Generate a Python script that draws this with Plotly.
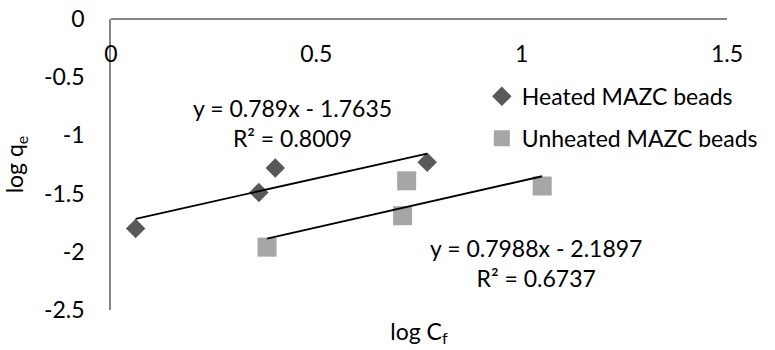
import plotly.graph_objects as go
import numpy as np

# ---- data ----
heated_x = [0.06, 0.36, 0.40, 0.77]
heated_y = [-1.80, -1.49, -1.28, -1.23]
unheated_x = [0.38, 0.71, 0.72, 1.05]
unheated_y = [-1.96, -1.69, -1.39, -1.435]

series_names = ["Heated MAZC beads", "Unheated MAZC beads"]
trend_slopes = [0.789, 0.7988]
trend_intercepts = [-1.7635, -2.1897]
trend_labels = ["y = 0.789x - 1.7635<br>R² = 0.8009",
                "y = 0.7988x - 2.1897<br>R² = 0.6737"]
x_ticks = [0, 0.5, 1, 1.5]
y_ticks = [0, -0.5, -1, -1.5, -2, -2.5]

FONT = "Lato, 'Open Sans', sans-serif"
FS = 23
DARK = "#595959"
LIGHT = "#A6A6A6"
AXIS = "#868686"

fig = go.Figure()

fig.add_trace(go.Scatter(
    x=heated_x, y=heated_y, mode="markers", name=series_names[0],
    legendgroup="a",
    marker=dict(symbol="diamond", size=15, color=DARK, line=dict(width=0)),
))
fig.add_trace(go.Scatter(
    x=unheated_x, y=unheated_y, mode="markers", name=series_names[1],
    legendgroup="b",
    marker=dict(symbol="square", size=19, color=LIGHT, line=dict(width=0)),
))

for xs, m, b in [(heated_x, trend_slopes[0], trend_intercepts[0]),
                 (unheated_x, trend_slopes[1], trend_intercepts[1])]:
    tx = np.array([min(xs), max(xs)])
    fig.add_trace(go.Scatter(
        x=tx, y=m * tx + b, mode="lines", showlegend=False,
        line=dict(color="black", width=1.8), hoverinfo="skip",
    ))

# x-title carrier axis at bottom
fig.add_trace(go.Scatter(x=[None], y=[None], xaxis="x2", showlegend=False))

fig.add_annotation(x=0.443, y=-0.89, xref="x", yref="y", text=trend_labels[0],
                   showarrow=False, align="center",
                   font=dict(family=FONT, size=FS, color="black"))
fig.add_annotation(x=1.035, y=-2.096, xref="x", yref="y", text=trend_labels[1],
                   showarrow=False, align="center",
                   font=dict(family=FONT, size=FS, color="black"))

fig.update_layout(
    width=775, height=350,
    margin=dict(l=111, r=38, t=19, b=40),
    paper_bgcolor="white", plot_bgcolor="white",
    font=dict(family=FONT, size=FS, color="black"),
    showlegend=True,
    legend=dict(x=0.602, y=0.808, xanchor="left", yanchor="top",
                tracegroupgap=9, bgcolor="rgba(0,0,0,0)",
                font=dict(family=FONT, size=FS, color="black")),
    xaxis=dict(range=[0, 1.5], anchor="free", position=1, side="bottom",
               showline=True, linecolor=AXIS,
               linewidth=1.5, showgrid=False, zeroline=False,
               tickvals=x_ticks, ticktext=[f"{v:g}" for v in x_ticks],
               ticks="", ticklabelstandoff=15, automargin=False,
               ticklabeloverflow="allow"),
    xaxis2=dict(range=[0, 1.5], overlaying="x", side="bottom",
                showline=False, showgrid=False, zeroline=False,
                showticklabels=False, ticks="", automargin=False,
                title=dict(text="log C<sub>f</sub>", standoff=13,
                           font=dict(family=FONT, size=FS))),
    yaxis=dict(range=[-2.5, 0], showline=True, linecolor=AXIS, linewidth=1.5,
               showgrid=False, zeroline=False,
               tickvals=y_ticks, ticktext=[f"{v:g}" for v in y_ticks],
               ticks="", ticklabelstandoff=20, automargin=False,
               ticklabeloverflow="allow",
               title=dict(text="log q<sub>e</sub>", standoff=18,
                          font=dict(family=FONT, size=FS))),
)

# remove the browser's default 8px page margin so the chart fills the window
fig.write_html("out.html",
               config={"displayModeBar": False},
               post_script="document.body.style.margin='0';")
